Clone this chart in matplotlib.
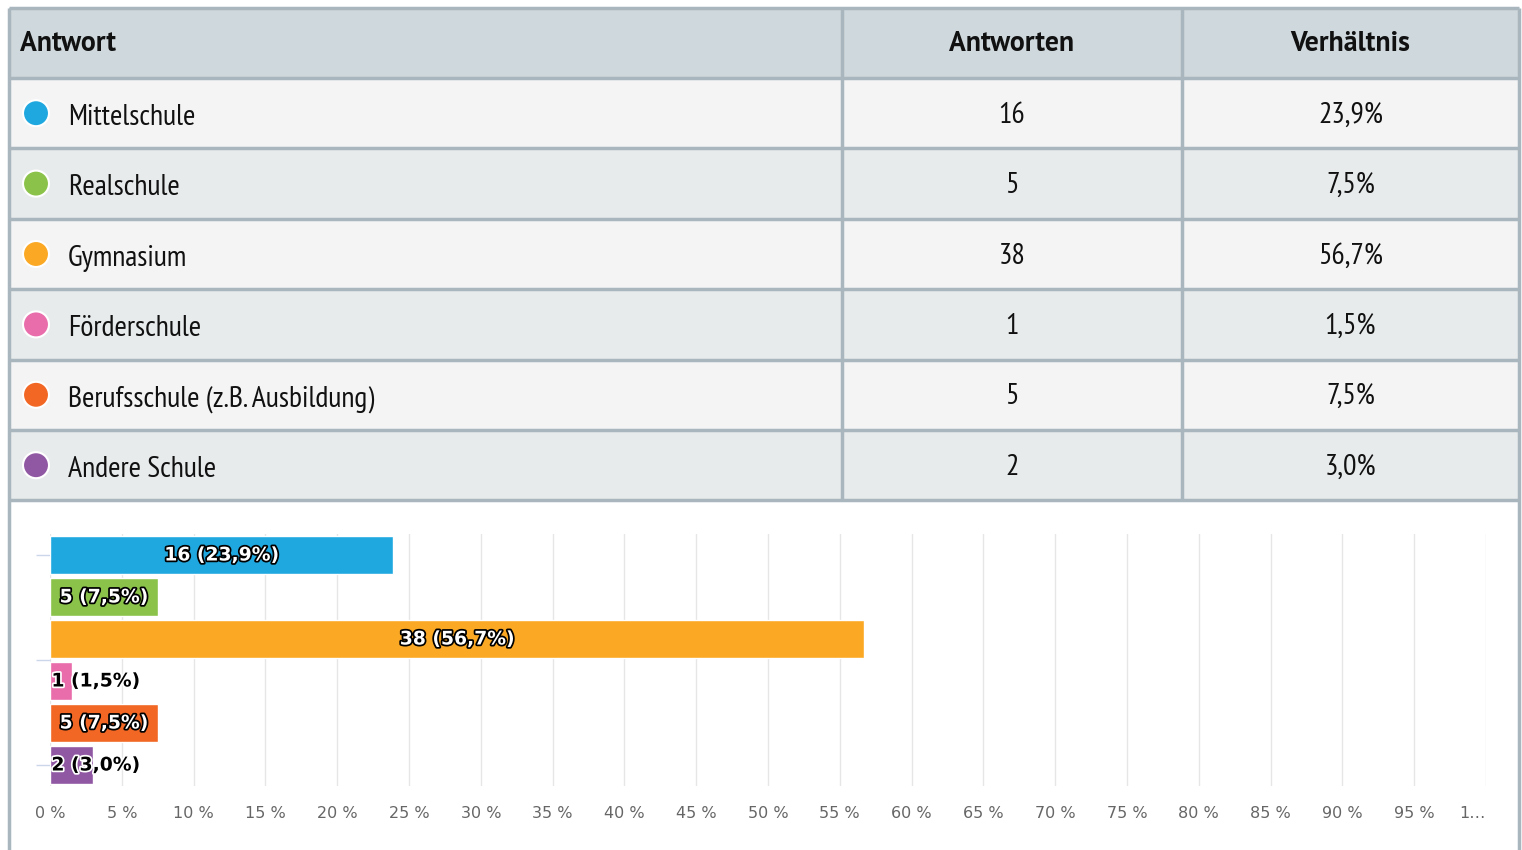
import matplotlib
matplotlib.use('Agg')
import matplotlib.pyplot as plt
import matplotlib.patches as patches
import matplotlib.patheffects as pe
from matplotlib import font_manager
import numpy as np

# Daten
kategorien = ['Mittelschule', 'Realschule', 'Gymnasium', 'Förderschule',
              'Berufsschule (z.B. Ausbildung)', 'Andere Schule']
antworten = [16, 5, 38, 1, 5, 2]
verhaeltnis = [23.9, 7.5, 56.7, 1.5, 7.5, 3.0]
farben = ['#1fa8e0', '#8bc34a', '#fba824', '#e96cab', '#f26724', '#9057a3']
spalten = ['Antwort', 'Antworten', 'Verhältnis']
x_ticks = list(range(0, 101, 5))
x_ticklabels = ['%d %%' % t for t in x_ticks[:-1]] + ['1…']

# schmale Schrift fuer die Tabelle, falls vorhanden
namen = set(f.name for f in font_manager.fontManager.ttflist)
tabfont = ['DejaVu Sans']
for kandidat in ['PT Sans Narrow', 'Archivo Narrow', 'Cabin Condensed', 'Asap Condensed']:
    if kandidat in namen:
        tabfont = [kandidat, 'DejaVu Sans']
        break
# Kopfzeile ist gesperrt gesetzt -> etwas breitere Schrift
kopffont = ['PT Sans', 'DejaVu Sans'] if 'PT Sans' in namen else tabfont

W, H = 1522, 850
fig = plt.figure(figsize=(W / 100, H / 100), dpi=100)
fig.patch.set_facecolor('white')

# Hintergrund-Achse in Pixeln fuer die Tabelle
bg = fig.add_axes([0, 0, 1, 1])
bg.set_xlim(0, W)
bg.set_ylim(H, 0)
bg.axis('off')

rand = '#a9b6bd'
x0, x1, x2, x3 = 9, 842, 1182, 1519
kopf_oben, kopf_unten = 8, 78
zeile_h = 70.4
fs_tab = 21.5

# Kopfzeile
bg.add_patch(patches.Rectangle((x0, kopf_oben), x3 - x0, kopf_unten - kopf_oben,
                               facecolor='#cfd8dc', edgecolor='none'))
bg.text(20, 44, spalten[0], fontsize=20, fontweight='bold', family=kopffont,
        va='center', ha='left', color='#111111')
bg.text((x1 + x2) / 2, 44, spalten[1], fontsize=20, fontweight='bold', family=kopffont,
        va='center', ha='center', color='#111111')
bg.text((x2 + x3) / 2, 44, spalten[2], fontsize=20, fontweight='bold', family=kopffont,
        va='center', ha='center', color='#111111')

for i, (k, n, p, c) in enumerate(zip(kategorien, antworten, verhaeltnis, farben)):
    top = kopf_unten + i * zeile_h
    fc = '#f4f4f4' if i % 2 == 0 else '#e8ebec'
    bg.add_patch(patches.Rectangle((x0, top), x3 - x0, zeile_h, facecolor=fc, edgecolor='none'))
    mitte = top + zeile_h / 2
    bg.add_patch(patches.Circle((36, mitte), 13, facecolor=c, edgecolor='white', lw=1.5))
    bg.text(68, mitte + 4, k, fontsize=fs_tab, family=tabfont, va='center', ha='left', color='#111111')
    bg.text((x1 + x2) / 2, mitte + 2, str(n), fontsize=fs_tab, family=tabfont,
            va='center', ha='center', color='#111111')
    bg.text((x2 + x3) / 2, mitte + 2, ('%.1f%%' % p).replace('.', ','), fontsize=fs_tab, family=tabfont,
            va='center', ha='center', color='#111111')

tab_unten = kopf_unten + len(kategorien) * zeile_h
# Linien der Tabelle
for i in range(len(kategorien) + 2):
    y = kopf_oben if i == 0 else kopf_unten + (i - 1) * zeile_h
    bg.plot([x0, x3], [y, y], color=rand, lw=2.5, solid_capstyle='butt')
for x in (x1, x2):
    bg.plot([x, x], [kopf_oben, tab_unten], color=rand, lw=2.5, solid_capstyle='butt')
for x in (x0, x3):
    bg.plot([x, x], [kopf_oben, H], color=rand, lw=2.5, solid_capstyle='butt')

# Balkendiagramm
links, rechts = 50, 1486
oben, unten = 534, 786
ax = fig.add_axes([links / W, 1 - unten / H, (rechts - links) / W, (unten - oben) / H])
ax.set_facecolor('none')
pos = np.arange(len(kategorien))
ax.barh(pos, verhaeltnis, height=0.92, color=farben, edgecolor='white', linewidth=1, zorder=3)
ax.set_xlim(0, 100)
ax.set_ylim(len(kategorien) - 0.5, -0.5)
ax.set_xticks(x_ticks)
ax.set_xticklabels(x_ticklabels, fontsize=11.5, color='#666666')
ax.get_xticklabels()[-1].set_ha('right')
ax.tick_params(axis='x', length=0, pad=14.5)
ax.set_yticks([0, 2.5, 5])
ax.set_yticklabels([])
ax.tick_params(axis='y', length=10, color='#ccd6eb', width=1)
ax.grid(axis='x', color='#e6e6e6', lw=1, zorder=0)
for s in ax.spines.values():
    s.set_visible(False)

for i, (n, p) in enumerate(zip(antworten, verhaeltnis)):
    txt = '%d (%s%%)' % (n, ('%.1f' % p).replace('.', ','))
    if p >= 5:
        ax.text(p / 2, i, txt, ha='center', va='center', fontsize=13.5, fontweight='bold',
                color='white', zorder=5,
                path_effects=[pe.withStroke(linewidth=2.5, foreground='black')])
    else:
        ax.text(0.1, i, txt, ha='left', va='center', fontsize=13.5, fontweight='bold',
                color='black', zorder=5,
                path_effects=[pe.withStroke(linewidth=2.5, foreground='white')])

fig.savefig('out.png', dpi=100, facecolor='white')
